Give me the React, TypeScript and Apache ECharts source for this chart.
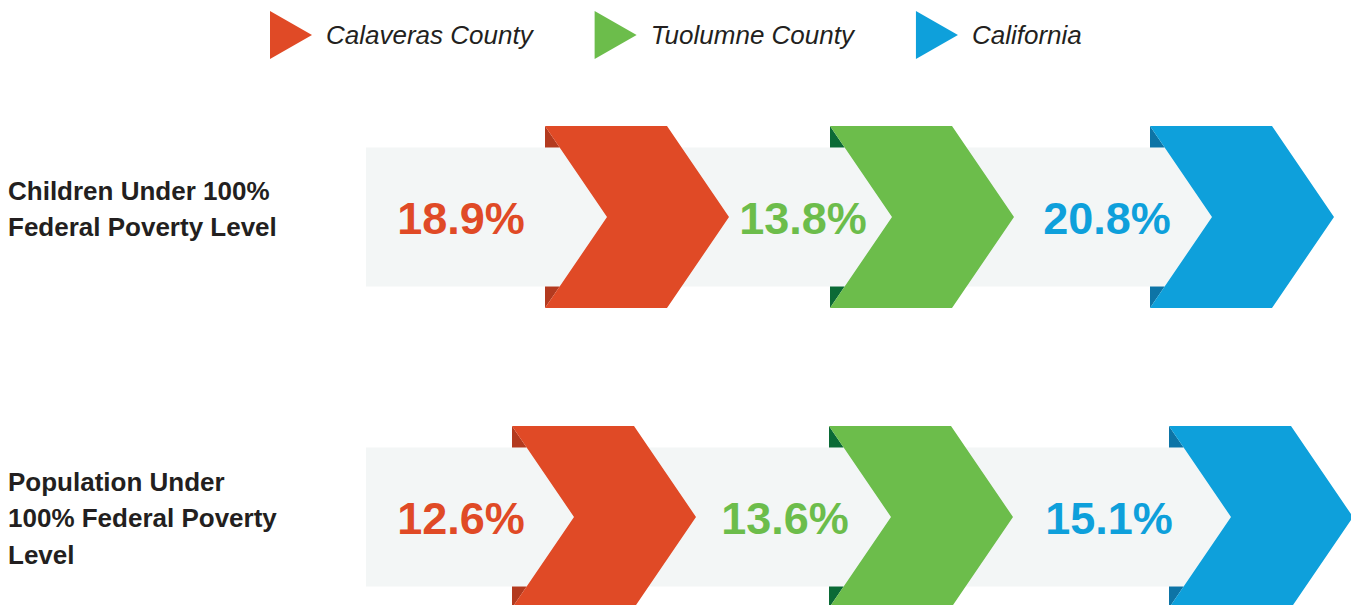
import React, { useEffect, useRef } from "react";
import * as echarts from "echarts";

// ---- data ----
const rowLabels = ["Children Under 100%\nFederal Poverty Level", "Population Under\n100% Federal Poverty\nLevel"];
const seriesNames = ["Calaveras County", "Tuolumne County", "California"];
const calaveras = [18.9, 12.6];
const tuolumne = [13.8, 13.6];
const california = [20.8, 15.1];

// ---- layout / style ----
const seriesValues = [calaveras, tuolumne, california];
const mainColors = ["#e04a26", "#6cbd4b", "#0ea0db"];
const foldColors = ["#b33a1f", "#0b6a36", "#0d74a6"];
const bandColor = "#f3f6f6";
const rowCenterY = [217, 517];
const chevronLeft = [
  [545, 830, 1150],
  [512, 829, 1169],
];
const labelCenterX = [
  [461, 803, 1107],
  [461, 785, 1109],
];
const bandLeft = 366;
const bandHalf = 69.5;
const chevHalf = 91;
const chevTop = 122;
const chevTip = 184;
const chevNotch = 62;
const FONT = '"Liberation Sans", Arial, Helvetica, sans-serif';

export default function App() {
  const ref = useRef<HTMLDivElement>(null);

  useEffect(() => {
    if (!ref.current) return;
    const chart = echarts.init(ref.current, undefined, { renderer: "svg" });

    const bandSeries: any = {
      type: "custom",
      name: "band",
      coordinateSystem: "none",
      silent: true,
      z: 1,
      data: rowLabels.map((_, i) => [i]),
      renderItem: (params: any) => {
        const r = params.dataIndex;
        const cy = rowCenterY[r];
        const right = chevronLeft[r][2] + chevNotch + 10;
        return {
          type: "rect",
          shape: { x: bandLeft, y: cy - bandHalf, width: right - bandLeft, height: bandHalf * 2 },
          style: { fill: bandColor },
        };
      },
    };

    const chevronSeries: any[] = seriesNames.map((name, s) => ({
      type: "custom",
      name,
      coordinateSystem: "none",
      z: 2,
      itemStyle: { color: mainColors[s] },
      data: seriesValues[s].map((v) => [v]),
      renderItem: (params: any, api: any) => {
        const r = params.dataIndex;
        const v = api.value(0);
        const cy = rowCenterY[r];
        const L = chevronLeft[r][s];
        const top = cy - chevHalf;
        const bot = cy + chevHalf;
        const bt = cy - bandHalf;
        const bb = cy + bandHalf;
        const dx = (chevNotch * (chevHalf - bandHalf)) / chevHalf;
        return {
          type: "group",
          children: [
            {
              type: "text",
              style: {
                text: v.toFixed(1) + "%",
                x: labelCenterX[r][s],
                y: cy + 1,
                align: "center",
                verticalAlign: "middle",
                fill: mainColors[s],
                font: `bold 45px ${FONT}`,
              },
            },
            {
              type: "polygon",
              shape: { points: [[L, top], [L, bt], [L + dx, bt]] },
              style: { fill: foldColors[s] },
            },
            {
              type: "polygon",
              shape: { points: [[L, bot], [L, bb], [L + dx, bb]] },
              style: { fill: foldColors[s] },
            },
            {
              type: "polygon",
              shape: {
                points: [
                  [L, top],
                  [L + chevTop, top],
                  [L + chevTip, cy],
                  [L + chevTop, bot],
                  [L, bot],
                  [L + chevNotch, cy],
                ],
              },
              style: { fill: mainColors[s] },
            },
          ],
        };
      },
    }));

    const rowLabelCenters = [209, 518];
    chart.setOption({
      animation: false,
      legend: {
        data: seriesNames,
        left: 270,
        top: 11,
        padding: 0,
        itemGap: 62,
        itemWidth: 42,
        itemHeight: 48,
        icon: "path://M0,0L42,24L0,48Z",
        selectedMode: false,
        textStyle: {
          fontFamily: FONT,
          fontStyle: "italic",
          fontSize: 26,
          color: "#231f20",
          padding: [0, 0, 0, 9],
        },
      },
      graphic: rowLabels.map((t, i) => ({
        type: "text",
        x: 8,
        y: rowLabelCenters[i],
        style: {
          text: t,
          fill: "#231f20",
          font: `bold 26px ${FONT}`,
          lineHeight: 36.5,
          verticalAlign: "middle",
        },
      })),
      series: [bandSeries, ...chevronSeries],
    });

    return () => chart.dispose();
  }, []);

  return (
    <div
      ref={ref}
      style={{ position: "absolute", left: 0, top: 0, width: 1351, height: 605, background: "#fff" }}
    />
  );
}
